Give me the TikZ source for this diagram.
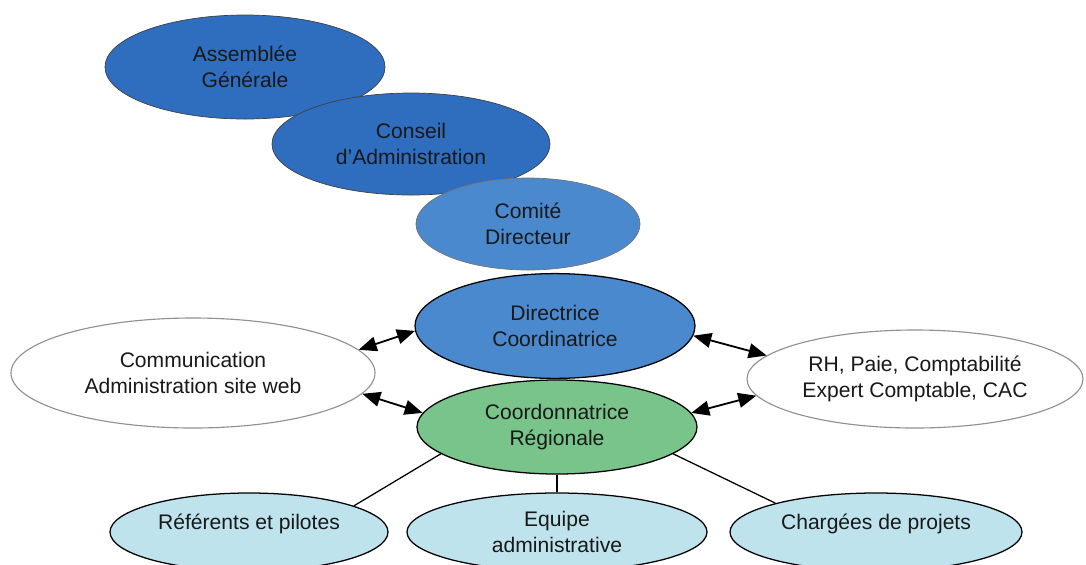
\documentclass[tikz,border=0pt]{standalone}
\usepackage{fontspec}
\setmainfont{Liberation Sans}
\usetikzlibrary{positioning,arrows.meta,shapes.geometric}

\definecolor{bleufonce}{RGB}{47,109,190}
\definecolor{bleumoyen}{RGB}{74,137,206}
\definecolor{vertreg}{RGB}{120,196,138}
\definecolor{bleuclair}{RGB}{190,227,236}
\definecolor{grisbord}{RGB}{150,142,140}

\begin{document}
\begin{tikzpicture}[font=\fontsize{15}{18.5}\selectfont,
  every node/.style={align=center, text=black!90},
  organe/.style={ellipse, inner sep=0pt, draw=black!75, line width=0.5pt},
  instance/.style={organe, fill=bleufonce},
  direction/.style={organe, fill=bleumoyen},
  pole/.style={organe, draw=black, line width=0.9pt},
  externe/.style={organe, fill=white, draw=grisbord, line width=0.8pt},
  service/.style={pole, fill=bleuclair, minimum height=1.95cm},
  uneligne/.style={text depth=0.5cm},
  lien/.style={line width=0.9pt},
  echange/.style={line width=1.3pt, {Triangle[length=0.45cm,width=0.37cm]}-{Triangle[length=0.45cm,width=0.37cm]}}]
  \clip (0,0) rectangle (27.15,-14.1);
  \useasboundingbox (0,0) rectangle (27.15,-14.1);

  % instances statutaires
  \node[instance, minimum width=7cm, minimum height=2.6cm] (ag) at (6.125,-1.675) {Assemblée\\Générale};
  \node[instance, minimum width=6.95cm, minimum height=2.55cm] (ca) at (10.275,-3.6) {Conseil\\d’Administration};
  \node[direction, draw=black!55, minimum width=5.6cm, minimum height=2.3cm] (cd) at (13.2,-5.6) {Comité\\Directeur};

  % direction et coordination
  \node[pole, fill=bleumoyen, minimum width=7cm, minimum height=2.62cm] (dc) at (13.875,-8.15) {Directrice\\Coordinatrice};
  \node[pole, fill=vertreg, minimum width=7cm, minimum height=2.35cm] (cr) at (13.925,-10.675) {Coordonnatrice\\Régionale};

  % appuis
  \node[externe, minimum width=9.1cm, minimum height=2.75cm] (com) at (4.825,-9.325) {Communication\\Administration site web};
  \node[externe, minimum width=8.4cm, minimum height=2.45cm] (rh) at (22.875,-9.475) {RH, Paie, Comptabilité\\Expert Comptable, CAC};

  % equipes
  \node[service, uneligne, minimum width=6.95cm] (ref) at (6.225,-13.3) {Référents et pilotes};
  \node[service, minimum width=7.5cm] (eq) at (13.925,-13.3) {Equipe\\administrative};
  \node[service, uneligne, minimum width=7.3cm] (ch) at (21.9,-13.3) {Chargées de projets};

  \draw[echange] (com.8) -- (dc.182);
  \draw[echange] (com.-7) -- (cr.174);
  \draw[echange] (dc.-4) -- (rh.171);
  \draw[echange] (cr.6) -- (rh.186);

  \draw[lien] (cr.193) -- (ref.14);
  \draw[lien] (cr.south) -- (eq.north);
  \draw[lien] (cr.347) -- (ch.164);
\end{tikzpicture}
\end{document}
